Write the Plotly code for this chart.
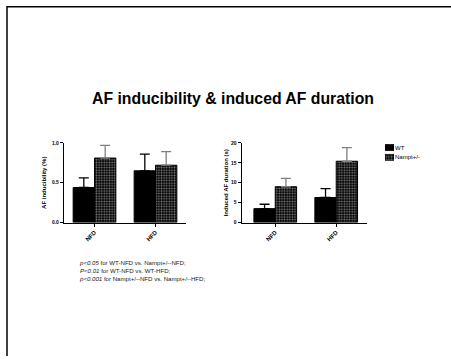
import plotly.graph_objects as go

categories = ["NFD", "HFD"]
groups = ["WT", "Nampt+/-"]
induc_mean = {"WT": [0.44, 0.65], "Nampt+/-": [0.81, 0.72]}
induc_upper = {"WT": [0.56, 0.86], "Nampt+/-": [0.97, 0.89]}
dur_mean = {"WT": [3.5, 6.3], "Nampt+/-": [9.0, 15.4]}
dur_upper = {"WT": [4.6, 8.5], "Nampt+/-": [11.1, 18.8]}
induc_ticks = [0.0, 0.5, 1.0]
dur_ticks = [0, 5, 10, 15, 20]

W, H = 451, 359
FONT = "Liberation Sans, Arial, sans-serif"

def px_x(p):
    return p / W

def px_y(p):
    return 1 - p / H

PATTERN = dict(shape=".", fgcolor="white", bgcolor="black", size=2.6, solidity=0.4)
styles = {
    "WT": dict(marker=dict(color="black", line=dict(color="black", width=1)), err="black"),
    "Nampt+/-": dict(marker=dict(color="black", line=dict(color="black", width=1),
                                 pattern=PATTERN), err="#7f7f7f"),
}

fig = go.Figure()

for g in groups:
    st = styles[g]
    fig.add_trace(go.Bar(
        x=categories, y=induc_mean[g], name=g, showlegend=False,
        marker=st["marker"], xaxis="x", yaxis="y",
        error_y=dict(type="data", symmetric=False,
                     array=[u - m for u, m in zip(induc_upper[g], induc_mean[g])],
                     arrayminus=[0, 0], color=st["err"], thickness=1.3, width=5),
    ))
for g in groups:
    st = styles[g]
    fig.add_trace(go.Bar(
        x=categories, y=dur_mean[g], name=g, showlegend=False,
        marker=st["marker"], xaxis="x2", yaxis="y2",
        error_y=dict(type="data", symmetric=False,
                     array=[u - m for u, m in zip(dur_upper[g], dur_mean[g])],
                     arrayminus=[0, 0], color=st["err"], thickness=1.3, width=5),
    ))

# legend drawn as a tiny key (one swatch per group) on its own hidden axes
fig.add_trace(go.Bar(
    y=groups, x=[1 for _ in groups], orientation="h", width=0.6, showlegend=False,
    xaxis="x3", yaxis="y3", hoverinfo="skip",
    marker=dict(color="black", line=dict(color="black", width=0.8),
                pattern=dict(shape=["" if g == "WT" else "." for g in groups],
                             fgcolor="white", bgcolor="black", size=2.6, solidity=0.4)),
))

ydom = [px_y(223.3), px_y(142.3)]
xaxis_common = dict(showline=True, linecolor="black", linewidth=1.3, ticks="outside",
                    ticklen=3, tickcolor="black", tickangle=-45, showgrid=False,
                    zeroline=False, tickfont=dict(family=FONT, size=6, color="black"),
                    fixedrange=True)
yaxis_common = dict(showline=True, linecolor="black", linewidth=1.3, ticks="outside",
                    ticklen=3, tickcolor="black", showgrid=False, zeroline=False,
                    tickfont=dict(family=FONT, size=5, color="black"), domain=ydom)

fig.update_layout(
    width=W, height=H, margin=dict(l=0, r=0, t=0, b=0),
    paper_bgcolor="white", plot_bgcolor="white",
    barmode="group", bargap=0.3, bargroupgap=0,
    font=dict(family=FONT, color="black"),
    showlegend=False,
    xaxis=dict(xaxis_common, domain=[px_x(64), px_x(186)], range=[-0.5, 1.5],
               anchor="y", tickvals=categories,
               ticktext=["<b>%s</b>" % c for c in categories]),
    yaxis=dict(yaxis_common, range=[0, 1.0], anchor="x", tickvals=induc_ticks,
               ticktext=["<b>%.1f</b>" % t for t in induc_ticks],
               title=dict(text="<b>AF inducibility (%)</b>", standoff=4,
                          font=dict(family=FONT, size=6, color="black"))),
    xaxis2=dict(xaxis_common, domain=[px_x(241.7), px_x(366.7)], range=[-0.55, 1.5],
                anchor="y2", tickvals=categories,
                ticktext=["<b>%s</b>" % c for c in categories]),
    yaxis2=dict(yaxis_common, range=[0, 20], anchor="x2", tickvals=dur_ticks,
                ticktext=["<b>%d</b>" % t for t in dur_ticks],
                title=dict(text="<b>Induced AF duration (s)</b>", standoff=1,
                           font=dict(family=FONT, size=6, color="black"))),
    xaxis3=dict(domain=[px_x(385), px_x(394)], range=[0, 1], visible=False,
                anchor="y3", fixedrange=True),
    yaxis3=dict(domain=[px_y(162), px_y(142)], anchor="x3", side="right",
                categoryorder="array", categoryarray=groups[::-1],
                showline=False, showgrid=False, zeroline=False, ticks="",
                tickfont=dict(family=FONT, size=6, color="black"), fixedrange=True),
)

fig.add_annotation(
    x=px_x(232.5), y=px_y(97), xref="paper", yref="paper", showarrow=False,
    xanchor="center", yanchor="middle",
    text="<b>AF inducibility &amp; induced AF duration</b>",
    font=dict(family=FONT, size=15.8, color="black"),
)

fig.add_annotation(
    x=px_x(77), y=px_y(258), xref="paper", yref="paper", showarrow=False,
    xanchor="left", yanchor="top", align="left",
    text=("<i>p&lt;0.05</i> for WT-NFD vs. Nampt+/--NFD;<br>"
          "<i>P&lt;0.01</i> for WT-NFD vs. WT-HFD;<br>"
          "<i>p&lt;0.001</i> for Nampt+/--NFD vs. Nampt+/--HFD;"),
    font=dict(family=FONT, size=6.1, color="#222222"),
)

# page frame lines
fig.add_shape(type="line", xref="paper", yref="paper", x0=px_x(7), x1=1, y0=px_y(3.7), y1=px_y(3.7),
              line=dict(color="black", width=1.5))
fig.add_shape(type="line", xref="paper", yref="paper", x0=px_x(7), x1=px_x(7), y0=px_y(3), y1=0,
              line=dict(color="black", width=1.5))

fig.write_html(
    "out.html",
    config={"displayModeBar": False},
    post_script="document.body.style.margin='0';document.body.style.overflow='hidden';",
)
